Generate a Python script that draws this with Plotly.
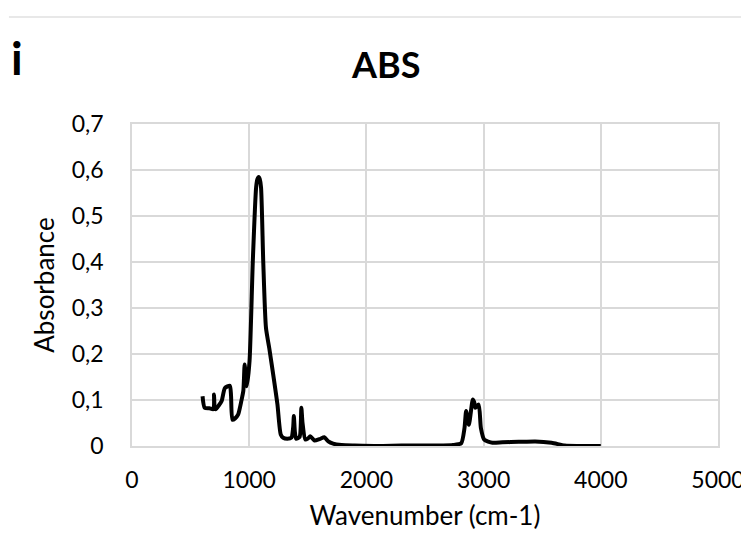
import plotly.graph_objects as go

wavenumber = [602, 620, 660, 695, 700, 705, 715, 740, 765, 793, 835, 845, 857, 880, 905, 933, 950, 961, 970, 980, 1003, 1031, 1059, 1070, 1081, 1090, 1101, 1120, 1143, 1171, 1213, 1241, 1269, 1290, 1325, 1360, 1375, 1381, 1390, 1400, 1430, 1445, 1455, 1479, 1500, 1521, 1557, 1600, 1641, 1675, 1716, 1787, 1900, 2100, 2300, 2500, 2655, 2739, 2809, 2837, 2851, 2874, 2908, 2920, 2930, 2958, 2977, 3005, 3076, 3160, 3300, 3440, 3580, 3692, 3800, 4000]
absorbance = [0.108, 0.083, 0.082, 0.080, 0.112, 0.085, 0.080, 0.088, 0.098, 0.126, 0.131, 0.110, 0.057, 0.060, 0.068, 0.098, 0.120, 0.177, 0.150, 0.130, 0.185, 0.403, 0.562, 0.580, 0.585, 0.580, 0.562, 0.400, 0.257, 0.213, 0.141, 0.090, 0.025, 0.018, 0.016, 0.018, 0.040, 0.065, 0.030, 0.016, 0.020, 0.083, 0.050, 0.014, 0.016, 0.021, 0.012, 0.015, 0.019, 0.010, 0.005, 0.002, 0.001, 0.0, 0.001, 0.001, 0.001, 0.002, 0.006, 0.039, 0.076, 0.046, 0.101, 0.095, 0.083, 0.090, 0.039, 0.014, 0.007, 0.008, 0.009, 0.010, 0.007, 0.001, 0.0, 0.0]

x_ticks = [0, 1000, 2000, 3000, 4000, 5000]
x_tick_labels = ["0", "1000", "2000", "3000", "4000", "5000"]
y_ticks = [0, 0.1, 0.2, 0.3, 0.4, 0.5, 0.6, 0.7]
y_tick_labels = ["0", "0,1", "0,2", "0,3", "0,4", "0,5", "0,6", "0,7"]

font_family = "Lato, 'Open Sans', sans-serif"
grid = "#d9d9d9"

fig = go.Figure()
fig.add_trace(go.Scatter(
    x=wavenumber, y=absorbance, mode="lines",
    line=dict(color="black", width=4, shape="spline", smoothing=0.6),
    showlegend=False,
))

fig.update_layout(
    width=749, height=540,
    margin=dict(l=124, r=30, t=116, b=102),
    paper_bgcolor="white", plot_bgcolor="white",
    font=dict(family=font_family, color="black", size=23),
    annotations=[
        dict(text="<b>ABS</b>", x=0.432, y=1.185, xref="paper", yref="paper",
             showarrow=False, font=dict(size=36, family=font_family), xanchor="center", yanchor="middle"),
        dict(text="<b>i</b>", x=-0.197, y=1.205, xref="paper", yref="paper",
             showarrow=False, font=dict(size=46, family=font_family), xanchor="center", yanchor="middle"),
    ],
    shapes=[
        dict(type="line", xref="paper", yref="paper", x0=-0.21, x1=1.06, y0=1.332, y1=1.332,
             line=dict(color="#e0e0e0", width=1.5)),
    ],
)

fig.update_xaxes(
    range=[0, 5000], tickvals=x_ticks, ticktext=x_tick_labels,
    showgrid=True, gridcolor=grid, gridwidth=1.5,
    showline=True, linecolor=grid, linewidth=1.5, mirror=True,
    zeroline=False, ticks="", ticklabelstandoff=13,
    title=dict(text="Wavenumber (cm-1)", font=dict(size=26), standoff=14),
    tickfont=dict(size=23),
)
fig.update_yaxes(
    range=[0, 0.7], tickvals=y_ticks, ticktext=y_tick_labels,
    showgrid=True, gridcolor=grid, gridwidth=1.5,
    showline=True, linecolor=grid, linewidth=1.5, mirror=True,
    zeroline=False, ticks="", ticklabelstandoff=22,
    title=dict(text="Absorbance", font=dict(size=26), standoff=10),
    tickfont=dict(size=23),
)

fig.write_html("out.html")
